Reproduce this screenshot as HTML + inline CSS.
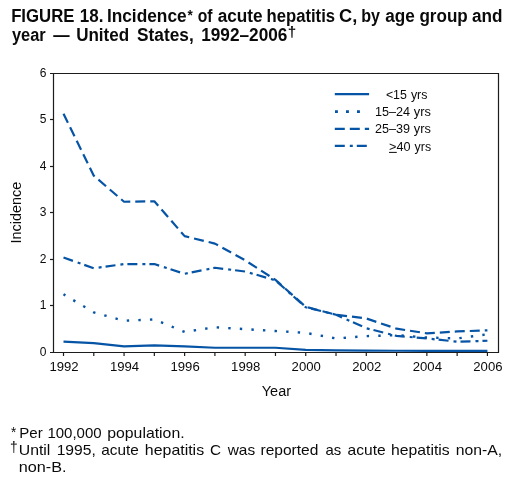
<!DOCTYPE html><html><head><meta charset="utf-8"><style>html,body{margin:0;padding:0;background:#fff;width:509px;height:479px;overflow:hidden}svg{display:block;will-change:transform}text{font-family:"Liberation Sans",sans-serif;fill:#0a0a0a}</style></head><body>
<svg width="509" height="479" viewBox="0 0 509 479">
<text x="11.14" y="21.8" font-size="17.5" font-weight="bold" textLength="63.28" lengthAdjust="spacingAndGlyphs">FIGURE</text>
<text x="79.73" y="21.8" font-size="17.5" font-weight="bold" textLength="23.66" lengthAdjust="spacingAndGlyphs">18.</text>
<text x="106.91" y="21.8" font-size="17.5" font-weight="bold" textLength="79.71" lengthAdjust="spacingAndGlyphs">Incidence</text>
<text x="187.4" y="19.9" font-size="15" font-weight="bold" textLength="5.26" lengthAdjust="spacingAndGlyphs">*</text>
<text x="197.7" y="21.8" font-size="17.5" font-weight="bold" textLength="14.78" lengthAdjust="spacingAndGlyphs">of</text>
<text x="217.7" y="21.8" font-size="17.5" font-weight="bold" textLength="44.91" lengthAdjust="spacingAndGlyphs">acute</text>
<text x="266.55" y="21.8" font-size="17.5" font-weight="bold" textLength="68.52" lengthAdjust="spacingAndGlyphs">hepatitis</text>
<text x="339.0" y="21.8" font-size="17.5" font-weight="bold" textLength="18.22" lengthAdjust="spacingAndGlyphs">C,</text>
<text x="361.28" y="21.8" font-size="17.5" font-weight="bold" textLength="18.8" lengthAdjust="spacingAndGlyphs">by</text>
<text x="385.3" y="21.8" font-size="17.5" font-weight="bold" textLength="29.55" lengthAdjust="spacingAndGlyphs">age</text>
<text x="419.4" y="21.8" font-size="17.5" font-weight="bold" textLength="48.36" lengthAdjust="spacingAndGlyphs">group</text>
<text x="471.9" y="21.8" font-size="17.5" font-weight="bold" textLength="30.5" lengthAdjust="spacingAndGlyphs">and</text>
<text x="11.9" y="40.6" font-size="17.5" font-weight="bold" textLength="33.81" lengthAdjust="spacingAndGlyphs">year</text>
<text x="53.3" y="40.6" font-size="17.5" font-weight="bold" textLength="16.33" lengthAdjust="spacingAndGlyphs">—</text>
<text x="76.13" y="40.6" font-size="17.5" font-weight="bold" textLength="53.01" lengthAdjust="spacingAndGlyphs">United</text>
<text x="137.1" y="40.6" font-size="17.5" font-weight="bold" textLength="56.59" lengthAdjust="spacingAndGlyphs">States,</text>
<text x="201.22" y="40.6" font-size="17.5" font-weight="bold" textLength="86.18" lengthAdjust="spacingAndGlyphs">1992–2006</text>
<text x="287.65" y="36.7" font-size="14.5" font-weight="bold" textLength="8.48" lengthAdjust="spacingAndGlyphs">†</text>
<text x="385.9" y="98.8" font-size="12" textLength="20.97" lengthAdjust="spacingAndGlyphs">&lt;15</text>
<text x="410.9" y="98.8" font-size="12" textLength="16.5" lengthAdjust="spacingAndGlyphs">yrs</text>
<text x="374.95" y="115.8" font-size="12" textLength="35.15" lengthAdjust="spacingAndGlyphs">15–24</text>
<text x="413.8" y="115.8" font-size="12" textLength="17.1" lengthAdjust="spacingAndGlyphs">yrs</text>
<text x="375.1" y="133.4" font-size="12" textLength="34.99" lengthAdjust="spacingAndGlyphs">25–39</text>
<text x="413.8" y="133.4" font-size="12" textLength="17.1" lengthAdjust="spacingAndGlyphs">yrs</text>
<text x="389.0" y="151" font-size="12" textLength="21.48" lengthAdjust="spacingAndGlyphs">&gt;40</text>
<text x="414.6" y="151" font-size="12" textLength="16.5" lengthAdjust="spacingAndGlyphs">yrs</text>
<text x="261.8" y="396" font-size="15.5" textLength="29.21" lengthAdjust="spacingAndGlyphs">Year</text>
<text x="19.3" y="437.5" font-size="15" textLength="23.45" lengthAdjust="spacingAndGlyphs">Per</text>
<text x="47.4" y="437.5" font-size="15" textLength="54.23" lengthAdjust="spacingAndGlyphs">100,000</text>
<text x="107.25" y="437.5" font-size="15" textLength="77.34" lengthAdjust="spacingAndGlyphs">population.</text>
<text x="18.75" y="455.4" font-size="15" textLength="31.62" lengthAdjust="spacingAndGlyphs">Until</text>
<text x="56.66" y="455.4" font-size="15" textLength="39.16" lengthAdjust="spacingAndGlyphs">1995,</text>
<text x="101.3" y="455.4" font-size="15" textLength="37.52" lengthAdjust="spacingAndGlyphs">acute</text>
<text x="144.84" y="455.4" font-size="15" textLength="59.29" lengthAdjust="spacingAndGlyphs">hepatitis</text>
<text x="210.0" y="455.4" font-size="15" textLength="11.06" lengthAdjust="spacingAndGlyphs">C</text>
<text x="227.7" y="455.4" font-size="15" textLength="27.41" lengthAdjust="spacingAndGlyphs">was</text>
<text x="260.46" y="455.4" font-size="15" textLength="57.94" lengthAdjust="spacingAndGlyphs">reported</text>
<text x="325.5" y="455.4" font-size="15" textLength="15.74" lengthAdjust="spacingAndGlyphs">as</text>
<text x="347.6" y="455.4" font-size="15" textLength="38.13" lengthAdjust="spacingAndGlyphs">acute</text>
<text x="391.05" y="455.4" font-size="15" textLength="58.57" lengthAdjust="spacingAndGlyphs">hepatitis</text>
<text x="455.85" y="455.4" font-size="15" textLength="46.41" lengthAdjust="spacingAndGlyphs">non-A,</text>
<text x="18.82" y="471.5" font-size="15" textLength="47.78" lengthAdjust="spacingAndGlyphs">non-B.</text>
<text x="11.1" y="437.0" font-size="14" textLength="5.24" lengthAdjust="spacingAndGlyphs">*</text>
<text x="9.92" y="452.2" font-size="14" textLength="7.67" lengthAdjust="spacingAndGlyphs">†</text>
<g stroke="#1c1c1c" stroke-width="1.2" fill="none">
<path d="M50,73.5 H498.5 V352.5 H50 M53.5,73.5 V352.5"/>
<path d="M50,305.50 H53.5"/>
<path d="M50,259.50 H53.5"/>
<path d="M50,212.50 H53.5"/>
<path d="M50,166.50 H53.5"/>
<path d="M50,119.50 H53.5"/>
<path d="M63.50,352.5 V356"/>
<path d="M93.78,352.5 V356"/>
<path d="M124.06,352.5 V356"/>
<path d="M154.34,352.5 V356"/>
<path d="M184.62,352.5 V356"/>
<path d="M214.90,352.5 V356"/>
<path d="M245.18,352.5 V356"/>
<path d="M275.46,352.5 V356"/>
<path d="M305.74,352.5 V356"/>
<path d="M336.02,352.5 V356"/>
<path d="M366.30,352.5 V356"/>
<path d="M396.58,352.5 V356"/>
<path d="M426.86,352.5 V356"/>
<path d="M457.14,352.5 V356"/>
<path d="M487.42,352.5 V356"/>
</g>
<text x="46.5" y="355.80" font-size="12" text-anchor="end">0</text>
<text x="46.5" y="309.30" font-size="12" text-anchor="end">1</text>
<text x="46.5" y="262.80" font-size="12" text-anchor="end">2</text>
<text x="46.5" y="216.30" font-size="12" text-anchor="end">3</text>
<text x="46.5" y="169.80" font-size="12" text-anchor="end">4</text>
<text x="46.5" y="123.30" font-size="12" text-anchor="end">5</text>
<text x="46.5" y="76.80" font-size="12" text-anchor="end">6</text>
<text x="64.00" y="370.6" font-size="12.3" text-anchor="middle" textLength="29.2" lengthAdjust="spacingAndGlyphs">1992</text>
<text x="124.56" y="370.6" font-size="12.3" text-anchor="middle" textLength="29.2" lengthAdjust="spacingAndGlyphs">1994</text>
<text x="185.12" y="370.6" font-size="12.3" text-anchor="middle" textLength="29.2" lengthAdjust="spacingAndGlyphs">1996</text>
<text x="245.68" y="370.6" font-size="12.3" text-anchor="middle" textLength="29.2" lengthAdjust="spacingAndGlyphs">1998</text>
<text x="306.24" y="370.6" font-size="12.3" text-anchor="middle" textLength="29.2" lengthAdjust="spacingAndGlyphs">2000</text>
<text x="366.80" y="370.6" font-size="12.3" text-anchor="middle" textLength="29.2" lengthAdjust="spacingAndGlyphs">2002</text>
<text x="427.36" y="370.6" font-size="12.3" text-anchor="middle" textLength="29.2" lengthAdjust="spacingAndGlyphs">2004</text>
<text x="487.92" y="370.6" font-size="12.3" text-anchor="middle" textLength="29.2" lengthAdjust="spacingAndGlyphs">2006</text>
<text x="0" y="0" font-size="14.5" textLength="62" lengthAdjust="spacingAndGlyphs" transform="translate(20.7,243.6) rotate(-90)">Incidence</text>
<path d="M389,152.4 H396.8" stroke="#0a0a0a" stroke-width="1"/>
<g fill="none" stroke="#0654a5" stroke-width="2.2" stroke-linejoin="round">
<polyline points="63.50,341.70 93.78,343.10 124.06,346.35 154.34,345.42 184.62,346.35 214.90,347.75 245.18,347.75 275.46,347.75 305.74,349.89 336.02,350.31 366.30,350.54 396.58,350.77 426.86,350.91 457.14,350.91 487.42,350.91"/>
<polyline points="63.50,294.27 93.78,312.41 124.06,320.78 154.34,319.38 184.62,331.94 214.90,327.29 245.18,329.15 275.46,331.01 305.74,332.87 336.02,338.45 366.30,336.12 396.58,335.19 426.86,337.52 457.14,338.45 487.42,334.26" stroke-width="2.4" stroke-dasharray="2.4 9.2" stroke-dashoffset="0.2"/>
<polyline points="63.50,113.85 93.78,175.70 124.06,201.74 154.34,201.27 184.62,236.15 214.90,243.59 245.18,260.33 275.46,279.86 305.74,306.83 336.02,314.73 366.30,318.45 396.58,328.69 426.86,333.33 457.14,331.47 487.42,330.31" stroke-dasharray="10 5"/>
<polyline points="63.50,257.54 93.78,268.23 124.06,264.05 154.34,264.05 184.62,273.81 214.90,267.77 245.18,271.49 275.46,280.32 305.74,307.29 336.02,314.73 366.30,328.22 396.58,335.89 426.86,338.45 457.14,341.70 487.42,340.77" stroke-dasharray="10 5 3 4"/>
<path d="M334.8,94.05 H369.1"/>
<path d="M335,111.6 H360" stroke-width="2.9" stroke-dasharray="2.9 8.1"/>
<path d="M334.8,128.8 H369.1" stroke-dasharray="10 5"/>
<path d="M334.8,145.9 H369.1" stroke-dasharray="10 5 3 4"/>
</g>
</svg></body></html>
